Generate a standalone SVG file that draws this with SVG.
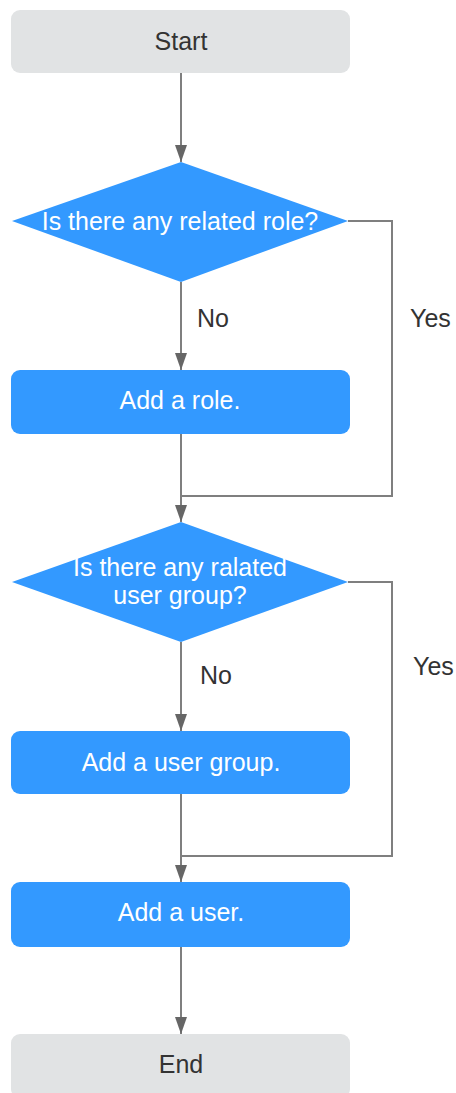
<svg xmlns="http://www.w3.org/2000/svg" width="456" height="1093" viewBox="0 0 456 1093">
<style>
.term{fill:#e1e3e4}
.proc{fill:#3399ff}
.dec{fill:#3399ff}
.t{font-family:"Liberation Sans",Arial,sans-serif;font-size:25px;text-anchor:middle}
.dark{fill:#333333}
.light{fill:#ffffff}
.lbl{font-family:"Liberation Sans",Arial,sans-serif;font-size:25px;fill:#333333}
.c{fill:none;stroke:#7f7f7f;stroke-width:2}
</style>
<defs>
<marker id="ah" viewBox="0 0 17 12" refX="17" refY="6" markerWidth="17" markerHeight="12" markerUnits="userSpaceOnUse" orient="auto">
<path d="M0,0 L17,6 L0,12 z" fill="#666666"/>
</marker>
</defs>
<rect width="456" height="1093" fill="#ffffff"/>
<g id="connectors">
<path class="c" d="M181,73 V162" marker-end="url(#ah)"/>
<path class="c" d="M181,282 V370" marker-end="url(#ah)"/>
<path class="c" d="M181,434 V522" marker-end="url(#ah)"/>
<path class="c" d="M348,221 H392 V496 H181"/>
<path class="c" d="M181,642 V731" marker-end="url(#ah)"/>
<path class="c" d="M181,794 V882" marker-end="url(#ah)"/>
<path class="c" d="M348,582 H392 V856 H181"/>
<path class="c" d="M181,947 V1034" marker-end="url(#ah)"/>
<text class="lbl" x="197" y="327">No</text>
<text class="lbl" x="410" y="327">Yes</text>
<text class="lbl" x="200" y="684">No</text>
<text class="lbl" x="413" y="675">Yes</text>
</g>
<g id="start">
<rect class="term" x="11" y="10" width="339" height="63" rx="9"/>
<text class="t dark" x="181" y="50">Start</text>
</g>
<g id="d1">
<polygon class="dec" points="12,221 181,162 348,221 181,282"/>
<text class="t light" x="180" y="230">Is there any related role?</text>
</g>
<g id="addrole">
<rect class="proc" x="11" y="370" width="339" height="64" rx="9"/>
<text class="t light" x="180" y="409">Add a role.</text>
</g>
<g id="d2">
<polygon class="dec" points="12,582 181,522 348,582 181,642"/>
<text class="t light" x="180" y="576">Is there any ralated</text>
<text class="t light" x="180" y="604">user group?</text>
</g>
<g id="addgroup">
<rect class="proc" x="11" y="731" width="339" height="63" rx="9"/>
<text class="t light" x="181" y="771">Add a user group.</text>
</g>
<g id="adduser">
<rect class="proc" x="11" y="882" width="339" height="65" rx="9"/>
<text class="t light" x="181" y="921">Add a user.</text>
</g>
<g id="end">
<rect class="term" x="11" y="1034" width="339" height="64" rx="9"/>
<text class="t dark" x="181" y="1073">End</text>
</g>
</svg>
